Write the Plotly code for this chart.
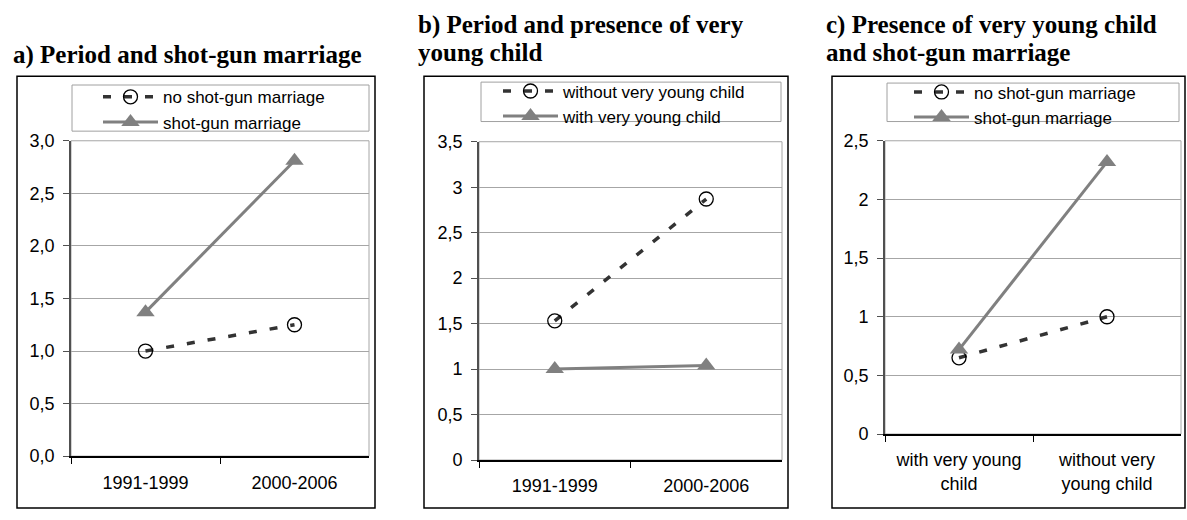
import plotly.graph_objects as go

W, H = 1187, 520

# ---- data ----
periods = ["1991-1999", "2000-2006"]
child_cats = ["with very young<br>child", "without very<br>young child"]

a_no_shotgun = [1.00, 1.25]
a_shotgun = [1.37, 2.81]

b_without_child = [1.53, 2.87]
b_with_child = [1.00, 1.04]

c_no_shotgun = [0.65, 1.00]
c_shotgun = [0.72, 2.32]

name_no_sg = "no shot-gun marriage"
name_sg = "shot-gun marriage"
name_without = "without very young child"
name_with = "with very young child"

title_a = ["a) Period and shot-gun marriage"]
title_b = ["b) Period and presence of very", "young child"]
title_c = ["c) Presence of very young child", "and shot-gun marriage"]


def px(x):
    return x / W


def py(y):
    return 1 - y / H


DASH_COLOR = "#333333"
SOLID_COLOR = "#808080"
TICK_FONT = dict(family="Liberation Sans, Arial, sans-serif", size=18, color="black")
LEG_FONT = dict(family="Liberation Sans, Arial, sans-serif", size=17, color="black")

fig = go.Figure()


def add_pair(xcats, dashed_vals, solid_vals, dashed_name, solid_name, xa, ya, leg):
    fig.add_trace(go.Scatter(
        x=xcats, y=dashed_vals, name=dashed_name, mode="lines+markers",
        line=dict(color=DASH_COLOR, width=3.5, dash="8px,13px"),
        marker=dict(symbol="circle-open", size=14, color="black",
                    line=dict(color="black", width=1.3)),
        xaxis=xa, yaxis=ya, legend=leg, cliponaxis=False,
    ))
    fig.add_trace(go.Scatter(
        x=xcats, y=solid_vals, name=solid_name, mode="lines+markers",
        line=dict(color=SOLID_COLOR, width=3),
        marker=dict(symbol="triangle-up", size=16, color=SOLID_COLOR),
        xaxis=xa, yaxis=ya, legend=leg, cliponaxis=False,
    ))


add_pair(periods, a_no_shotgun, a_shotgun, name_no_sg, name_sg, "x", "y", "legend")
add_pair(periods, b_without_child, b_with_child, name_without, name_with, "x2", "y2", "legend2")
add_pair(child_cats, c_no_shotgun, c_shotgun, name_no_sg, name_sg, "x3", "y3", "legend3")

panels = [
    # (suffix, plot area px: x0, x1, ytop, ybottom, yrange, tickformat)
    ("", 71, 369, 136, 464, 3.0, ".1f"),
    ("2", 479, 782, 137, 468, 3.5, ""),
    ("3", 885, 1181, 136, 441, 2.5, ""),
]

layout = dict(
    width=W, height=H,
    margin=dict(l=0, r=0, t=0, b=0),
    paper_bgcolor="white", plot_bgcolor="white",
    separators=", ",
    showlegend=True,
    font=TICK_FONT,
)

shapes = []
for suf, x0, x1, yt, yb, ymax, fmt in panels:
    layout["xaxis" + suf] = dict(
        domain=[px(x0), px(x1)], anchor="y" + suf, type="category",
        range=[-0.5, 1.5], tickson="boundaries", ticks="outside", ticklen=6,
        tickcolor="black", tickwidth=1.3, showline=True, linecolor="black",
        linewidth=1.5, showgrid=False, zeroline=False, tickfont=TICK_FONT,
        ticklabelstandoff=9, fixedrange=True,
    )
    layout["yaxis" + suf] = dict(
        domain=[py(yb), py(yt)], anchor="x" + suf, range=[0, ymax], dtick=0.5,
        tick0=0, tickformat=fmt, ticks="outside", ticklen=6, tickcolor="#505050",
        tickwidth=1.3, showline=True, linecolor="#505050", linewidth=1.8,
        showgrid=True, gridcolor="#a6a6a6", gridwidth=1, zeroline=False,
        tickfont=TICK_FONT, ticklabelstandoff=5, fixedrange=True,
    )
    xr = "x" + suf + " domain"
    yr = "y" + suf + " domain"
    shapes.append(dict(type="rect", xref=xr, yref=yr, x0=0, x1=1, y0=0, y1=1,
                       line=dict(color="#a6a6a6", width=1), layer="below"))

# outer frames
for x0, x1 in [(17, 375), (424, 788), (832, 1185)]:
    shapes.append(dict(type="rect", xref="paper", yref="paper",
                       x0=px(x0), x1=px(x1), y0=py(518), y1=py(69),
                       line=dict(color="black", width=1.5)))
# legend frames
for x0, x1, y0, y1 in [(72, 369, 78, 126), (481, 781, 75, 116), (887, 1179, 76, 116)]:
    shapes.append(dict(type="rect", xref="paper", yref="paper",
                       x0=px(x0), x1=px(x1), y0=py(y1), y1=py(y0),
                       line=dict(color="#a0a0a0", width=1)))
layout["shapes"] = shapes

leg_common = dict(xanchor="left", yanchor="top", bgcolor="rgba(0,0,0,0)",
                  borderwidth=0, font=LEG_FONT, itemwidth=55, tracegroupgap=0)
layout["legend"] = dict(x=px(98), y=py(72), **leg_common)
layout["legend2"] = dict(x=px(498), y=py(66), **leg_common)
layout["legend3"] = dict(x=px(909), y=py(67), **leg_common)

# base size sets the line spacing (1.3 x base); the span sets the glyph size
TITLE_FONT = dict(family="Liberation Serif, Times New Roman, serif", size=21.7,
                  color="black", weight="bold")


def title_text(lines):
    return "<br>".join('<span style="font-size:25px">%s</span>' % s for s in lines)


ann = []
for lines, x, y in [
    (title_a, 11, 47),
    (title_b, 416, 30),
    (title_c, 824, 30),
]:
    ann.append(dict(text=title_text(lines), xref="paper", yref="paper", x=px(x), y=py(y),
                    xanchor="left", yanchor="middle", align="left",
                    showarrow=False, font=TITLE_FONT))
layout["annotations"] = ann

fig.update_layout(**layout)
fig.write_html(
    "out.html",
    config={"displayModeBar": False},
    post_script="document.body.style.margin='0';document.body.style.overflow='hidden';",
)
